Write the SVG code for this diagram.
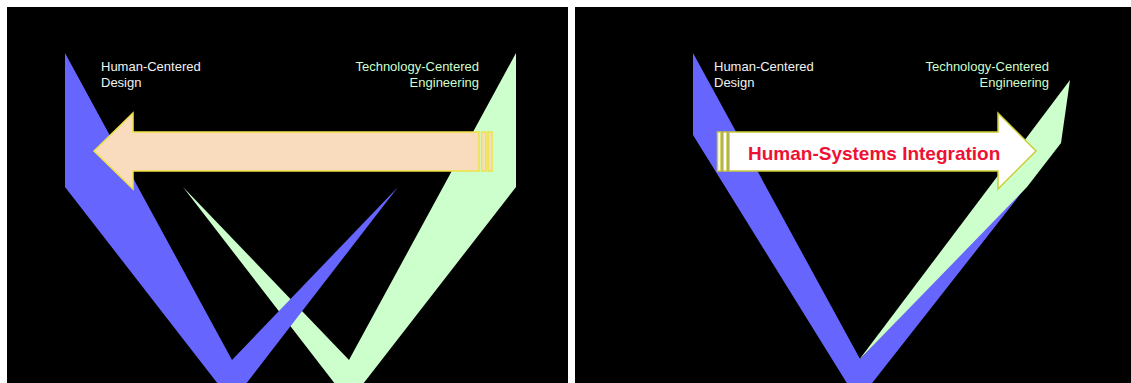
<svg xmlns="http://www.w3.org/2000/svg" width="1131" height="383" viewBox="0 0 1131 383">
<style>
.panel{fill:#000}
.blue{fill:#6666FF}
.green{fill:#CCFFCC}
.lbl{font-family:"Liberation Sans",Arial,sans-serif;font-size:13px}
.hcd{fill:#F2F2F2}
.tce{fill:#CCFFCC}
.peach{fill:#F9DBBD;stroke:#EEE244;stroke-width:1.5}
.white{fill:#FFFFFF;stroke:#CCCC33;stroke-width:1.5}
.hsi{font-family:"Liberation Sans",Arial,sans-serif;font-size:19px;font-weight:bold;fill:#EE1133}
</style>
<rect width="1131" height="383" fill="#FFFFFF"/>
<g id="left-panel">
  <rect class="panel" x="7" y="7" width="561" height="376"/>
  <g id="left-green-v">
    <polygon class="green" points="516,53 516,187 349,402 183,187 349,360"/>
  </g>
  <g id="left-blue-v">
    <polygon class="blue" points="65,53 232,360 398,187 232,402 65,187"/>
  </g>
  <g id="left-label-hcd">
    <text class="lbl hcd" x="101" y="71">Human-Centered</text>
    <text class="lbl hcd" x="101" y="87">Design</text>
  </g>
  <g id="left-label-tce">
    <text class="lbl tce" x="479" y="71" text-anchor="end">Technology-Centered</text>
    <text class="lbl tce" x="479" y="87" text-anchor="end">Engineering</text>
  </g>
  <g id="left-arrow">
    <polygon class="peach" points="94,151 133,113 133,132 479,132 479,171 133,171 133,189"/>
    <rect class="peach" x="481.5" y="132" width="4.5" height="39"/>
    <rect class="peach" x="488" y="132" width="4" height="39"/>
  </g>
</g>
<g id="right-panel">
  <rect class="panel" x="575" y="7" width="556" height="376"/>
  <g id="right-blue-v">
    <polygon class="blue" points="693,53 860,359 1030,182 858,401 693,135"/>
  </g>
  <g id="right-green-wedge">
    <polygon class="green" points="1070,80 1061,143 1027,187 859,360"/>
  </g>
  <g id="right-label-hcd">
    <text class="lbl hcd" x="714" y="71">Human-Centered</text>
    <text class="lbl hcd" x="714" y="87">Design</text>
  </g>
  <g id="right-label-tce">
    <text class="lbl tce" x="1049" y="71" text-anchor="end">Technology-Centered</text>
    <text class="lbl tce" x="1049" y="87" text-anchor="end">Engineering</text>
  </g>
  <g id="right-arrow">
    <rect class="white" x="717.5" y="132" width="3.5" height="39"/>
    <rect class="white" x="723" y="132" width="4" height="39"/>
    <polygon class="white" points="729,132 998,132 998,113 1036,151 998,189 998,171 729,171"/>
    <text class="hsi" x="748" y="160">Human-Systems Integration</text>
  </g>
</g>
</svg>
